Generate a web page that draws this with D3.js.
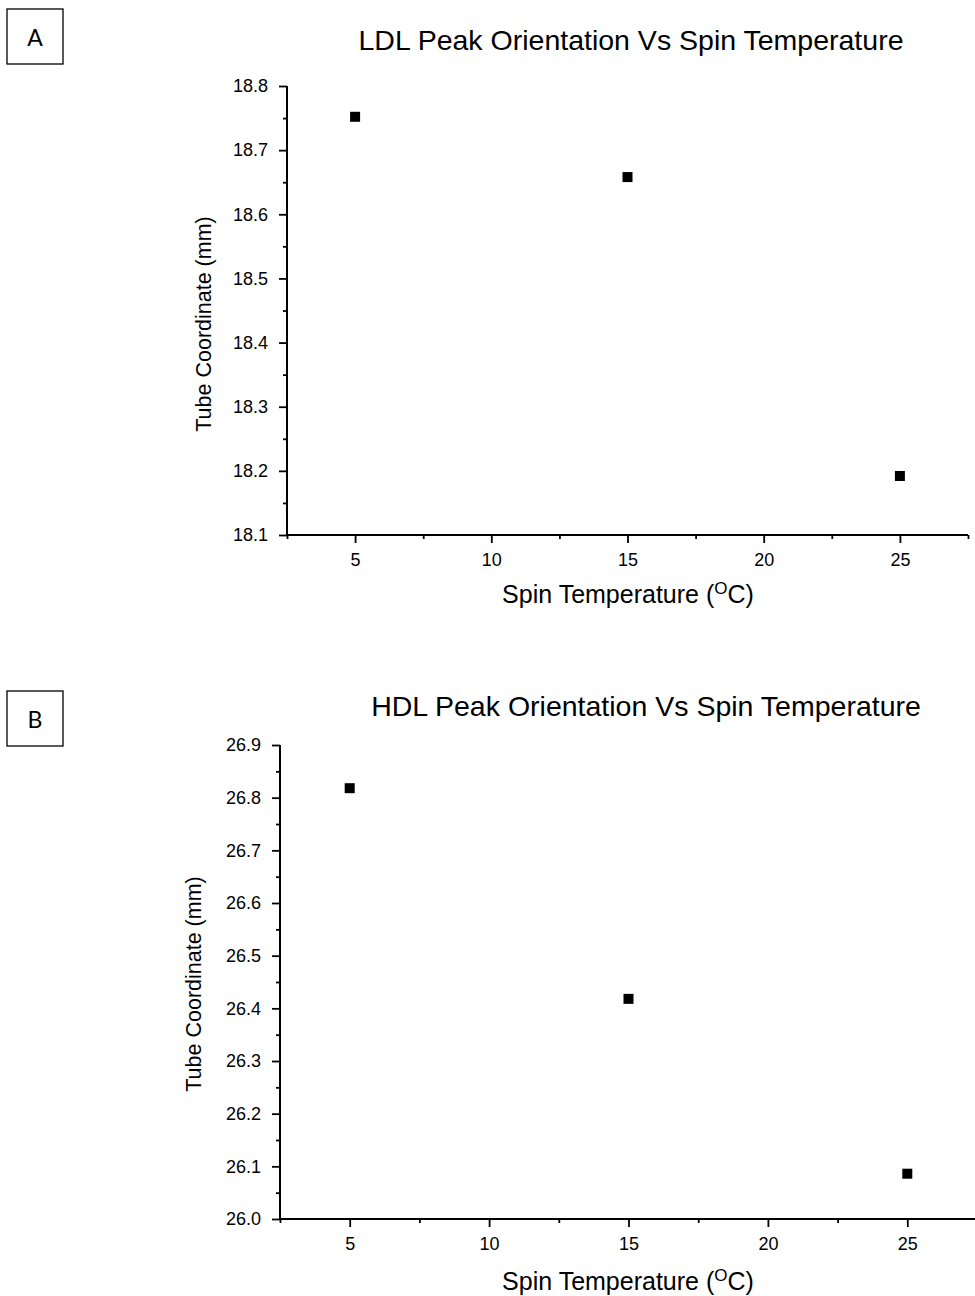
<!DOCTYPE html>
<html>
<head>
<meta charset="utf-8">
<script src="https://cdn.jsdelivr.net/npm/d3@7"></script>
<style>
  body { margin: 0; background: #fff; }
  text { font-family: "Liberation Sans", Arial, sans-serif; fill: #000; }
</style>
</head>
<body>
<div id="chart"></div>
<script>
// spin temperatures (deg C)
const temps = [5, 15, 25];
// LDL peak position (mm)
const ldlValues = [18.752, 18.658, 18.192];
// HDL peak position (mm)
const hdlValues = [26.818, 26.418, 26.086];

const xTicks = [5, 10, 15, 20, 25];
const ldlTicks = [18.1, 18.2, 18.3, 18.4, 18.5, 18.6, 18.7, 18.8];
const hdlTicks = [26.0, 26.1, 26.2, 26.3, 26.4, 26.5, 26.6, 26.7, 26.8, 26.9];

const svg = d3.select("#chart").append("svg")
    .attr("width", 975)
    .attr("height", 1296);

function drawPanel(opt) {
    let g = svg.append("g");

    // letter box
    g.append("rect")
        .attr("x", opt.box[0]).attr("y", opt.box[1])
        .attr("width", 56).attr("height", 55)
        .attr("fill", "none").attr("stroke", "#000").attr("stroke-width", 1.3);
    g.append("text")
        .attr("x", opt.box[0] + 28).attr("y", opt.box[1] + 37)
        .attr("text-anchor", "middle")
        .style("font-family", "Lato, 'Open Sans', sans-serif")
        .attr("font-size", 23)
        .text(opt.letter);

    let x = d3.scaleLinear().domain([2.5, 27.5]).range([opt.left, opt.right]);
    let y = d3.scaleLinear().domain(opt.yDomain).range([opt.bottom, opt.top]);

    // title
    g.append("text")
        .attr("x", opt.titleX).attr("y", opt.titleY)
        .attr("text-anchor", "middle")
        .attr("font-size", 28.5)
        .text(opt.title);

    // x axis, major + minor ticks
    let xAxis = d3.axisBottom(x).tickValues(xTicks).tickSize(8).tickPadding(10).tickFormat(d3.format("d"));
    let xMinor = d3.axisBottom(x).tickValues([2.5, 7.5, 12.5, 17.5, 22.5, 27.5]).tickSize(4).tickFormat("");
    g.append("g").attr("transform", `translate(0,${opt.bottom})`).call(xAxis);
    g.append("g").attr("transform", `translate(0,${opt.bottom})`).call(xMinor);

    // y axis
    let yAxis = d3.axisLeft(y).tickValues(opt.yTicks).tickSize(8).tickPadding(11).tickFormat(d3.format(".1f"));
    let minor = opt.yTicks.slice(0, -1).map(d => d + 0.05);
    let yMinor = d3.axisLeft(y).tickValues(minor).tickSize(4).tickFormat("");
    g.append("g").attr("transform", `translate(${opt.left},0)`).call(yAxis);
    g.append("g").attr("transform", `translate(${opt.left},0)`).call(yMinor);

    g.selectAll(".domain").remove();
    g.selectAll(".tick line").attr("stroke-width", 1.8);
    g.selectAll(".tick text").attr("font-size", 18).style("font-family", "'Liberation Sans', Arial, sans-serif");

    // plain axis lines
    g.append("line")
        .attr("x1", opt.left).attr("x2", opt.right)
        .attr("y1", opt.bottom).attr("y2", opt.bottom)
        .attr("stroke", "#000").attr("stroke-width", 2);
    g.append("line")
        .attr("x1", opt.left).attr("x2", opt.left)
        .attr("y1", opt.top).attr("y2", opt.bottom + 1)
        .attr("stroke", "#000").attr("stroke-width", 2);

    // axis labels
    let xl = g.append("text")
        .attr("x", opt.xLabelX).attr("y", opt.xLabelY)
        .attr("text-anchor", "middle")
        .attr("font-size", 25);
    xl.append("tspan").text("Spin Temperature (");
    xl.append("tspan").attr("dy", -9).attr("font-size", 17).text("O");
    xl.append("tspan").attr("dy", 9).text("C)");

    g.append("text")
        .attr("transform", `translate(${opt.yLabelX},${opt.yLabelY}) rotate(-90)`)
        .attr("text-anchor", "middle")
        .attr("font-size", 21.5)
        .text("Tube Coordinate (mm)");

    // markers
    g.selectAll(".pt")
        .data(temps.map((t, i) => [t, opt.values[i]]))
        .enter().append("rect")
        .attr("class", "pt")
        .attr("x", d => x(d[0]) - 5)
        .attr("y", d => y(d[1]) - 5)
        .attr("width", 10).attr("height", 10)
        .attr("fill", "#000");
}

drawPanel({
    letter: "A", box: [7, 9],
    title: "LDL Peak Orientation Vs Spin Temperature", titleX: 631, titleY: 50,
    left: 287, right: 968, top: 86, bottom: 535,
    yDomain: [18.1, 18.8], yTicks: ldlTicks, values: ldlValues,
    xLabelX: 628, xLabelY: 603, yLabelX: 211, yLabelY: 324
});

drawPanel({
    letter: "B", box: [7, 691],
    title: "HDL Peak Orientation Vs Spin Temperature", titleX: 646, titleY: 716,
    left: 280, right: 977, top: 745, bottom: 1219,
    yDomain: [26.0, 26.9], yTicks: hdlTicks, values: hdlValues,
    xLabelX: 628, xLabelY: 1290, yLabelX: 201, yLabelY: 984
});
</script>
</body>
</html>
